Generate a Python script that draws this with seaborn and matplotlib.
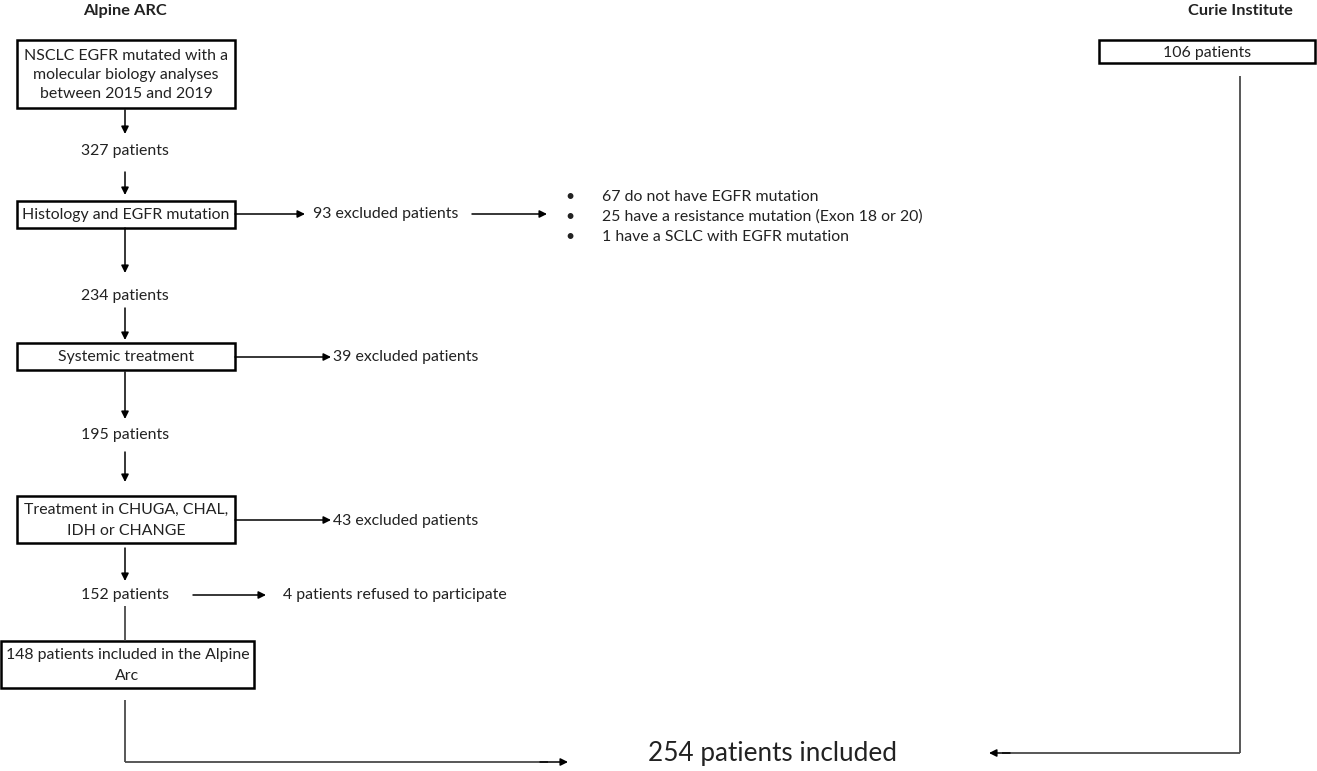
import matplotlib
matplotlib.use("Agg")
import matplotlib.pyplot as plt
import matplotlib.patches as patches
import seaborn as sns

# testi del diagramma
titoli = ["Alpine ARC", "Curie Institute"]
box_alpine = [
    "NSCLC EGFR mutated with a\nmolecular biology analyses\nbetween 2015 and 2019",
    "Histology and EGFR mutation",
    "Systemic treatment",
    "Treatment in CHUGA, CHAL,\nIDH or CHANGE",
    "148 patients included in the Alpine\nArc",
]
conteggi = ["327 patients", "234 patients", "195 patients", "152 patients"]
esclusi = ["93 excluded patients", "39 excluded patients", "43 excluded patients",
           "4 patients refused to participate"]
dettagli_93 = ["67 do not have EGFR mutation",
               "25 have a resistance mutation (Exon 18 or 20)",
               "1 have a SCLC with EGFR mutation"]
box_curie = "106 patients"
totale = "254 patients included"

sns.set_theme(style="white")
plt.rcParams["font.family"] = ["Lato", "DejaVu Sans"]

W, H = 1317, 771
fig = plt.figure(figsize=(W / 100, H / 100), dpi=100)
ax = fig.add_axes([0, 0, 1, 1])
ax.set_xlim(0, W)
ax.set_ylim(H, 0)
ax.axis("off")

FS = 11.4
TXT = "#222222"
LINE = "#4a4a4a"


def box(x0, y0, x1, y1, testo, ls=1.0):
    ax.add_patch(patches.Rectangle((x0, y0), x1 - x0, y1 - y0, fill=False,
                                   edgecolor="black", lw=1.8))
    ax.text((x0 + x1) / 2, (y0 + y1) / 2 + 1, testo, ha="center", va="center",
            fontsize=FS, color=TXT, linespacing=ls)


def freccia(x0, y0, x1, y1):
    ax.annotate("", xy=(x1, y1), xytext=(x0, y0),
                arrowprops=dict(arrowstyle="-|>", color="black", lw=1.1,
                                mutation_scale=11, shrinkA=0, shrinkB=0))


def linea(xs, ys):
    ax.plot(xs, ys, color=LINE, lw=1.3, solid_capstyle="butt")


def scritta(x, y, t, ha="left", **kw):
    ax.text(x, y, t, ha=ha, va="center", fontsize=kw.pop("fontsize", FS), color=TXT, **kw)


cx = 125

# titoli
scritta(cx, 11, titoli[0], ha="center", fontsize=11.8, weight="bold")
scritta(1240, 11, titoli[1], ha="center", fontsize=11.8, weight="bold")

# colonna Alpine
box(17, 40, 235, 108, box_alpine[0], ls=1.42)
freccia(cx, 110, cx, 134)
scritta(cx, 151, conteggi[0], ha="center")
freccia(cx, 172, cx, 195)

box(17, 201, 235, 228, box_alpine[1])
freccia(235, 214, 305, 214)
scritta(313, 214, esclusi[0])
freccia(472, 214, 547, 214)
for i, t in enumerate(dettagli_93):
    y = 197 + i * 20
    scritta(570, y, "\u2022", ha="center")
    scritta(602, y, t)

freccia(cx, 228, cx, 273)
scritta(cx, 296, conteggi[1], ha="center")
freccia(cx, 308, cx, 340)

box(17, 343, 235, 370, box_alpine[2])
freccia(235, 357, 331, 357)
scritta(333, 357, esclusi[1])

freccia(cx, 372, cx, 419)
scritta(cx, 435, conteggi[2], ha="center")
freccia(cx, 452, cx, 482)

box(17, 496, 235, 543, box_alpine[3], ls=1.65)
freccia(235, 520, 331, 520)
scritta(333, 521, esclusi[2])

freccia(cx, 548, cx, 581)
scritta(cx, 595, conteggi[3], ha="center")
freccia(193, 595, 266, 595)
scritta(283, 595, esclusi[3])

linea([cx, cx], [606, 641])
box(1, 641, 254, 688, box_alpine[4], ls=1.65)

linea([cx, cx], [700, 762])
linea([cx, 548], [762, 762])
freccia(540, 762, 568, 762)

# colonna Curie
box(1099, 40, 1315, 63, box_curie)
linea([1240, 1240], [76, 753])
linea([1240, 1002], [753, 753])
freccia(1010, 753, 989, 753)

# totale
scritta(772, 754, totale, ha="center", fontsize=18.8)

fig.savefig("out.png", dpi=100)
